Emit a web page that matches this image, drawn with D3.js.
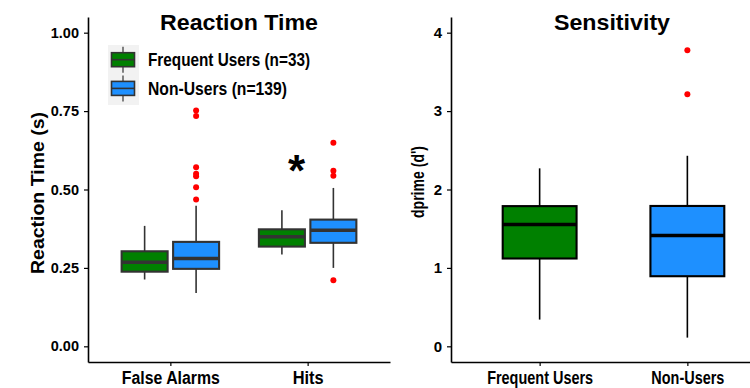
<!DOCTYPE html>
<html>
<head>
<meta charset="utf-8">
<script src="https://cdn.jsdelivr.net/npm/d3@7"></script>
<style>
  body { margin: 0; background: #fff; }
  text { font-family: "Liberation Sans", Arial, sans-serif; font-weight: bold; }
</style>
</head>
<body>
<svg width="750" height="388"></svg>
<script>
// ---- data ----
var rtCategories = ["False Alarms", "Hits"];
var groups = ["Frequent Users", "Non-Users"];
var legendLabels = ["Frequent Users (n=33)", "Non-Users (n=139)"];
var groupColors = ["#008000", "#1e90ff"];

// five number summaries: [lowerWhisker, q1, median, q3, upperWhisker]
var rtFrequent = [[0.213, 0.238, 0.268, 0.303, 0.384], [0.293, 0.318, 0.349, 0.373, 0.434]];
var rtNonUsers = [[0.170, 0.247, 0.280, 0.333, 0.448], [0.250, 0.330, 0.370, 0.404, 0.505]];
var rtOutliersFA = [0.752, 0.734, 0.571, 0.550, 0.542, 0.507, 0.468];
var rtOutliersHits = [0.649, 0.560, 0.544, 0.211];
var rtTicks = [0, 0.25, 0.5, 0.75, 1];

var dpStats = [[0.341, 1.12, 1.554, 1.788, 2.27], [0.111, 0.894, 1.414, 1.79, 2.43]];
var dpOutliersNon = [3.776, 3.214];
var dpTicks = [0, 1, 2, 3, 4];

var svg = d3.select("svg");

// squeeze text to the wanted width (the reference font is a narrow one)
function fit(sel, w) {
  sel.attr("textLength", w).attr("lengthAdjust", "spacingAndGlyphs");
}
var xLabelWidth = { "False Alarms": 98, "Hits": 31, "Frequent Users": 106, "Non-Users": 73 };

// ---------- left panel: reaction time ----------
var yRT = d3.scaleLinear().domain([-0.05, 1.05]).range([362, 17]);
var xRT = d3.scalePoint().domain(rtCategories).range([88, 390]).padding(0.6);
var stepRT = xRT.step();

var left = svg.append("g");

left.append("g")
    .attr("transform", "translate(88,0)")
    .call(d3.axisLeft(yRT).tickValues(rtTicks).tickFormat(d3.format(".2f")).tickSize(4).tickSizeOuter(0).tickPadding(5))
    .call(g => g.selectAll("text").attr("font-size", 14.5).attr("fill", "#000"));
left.append("g")
    .attr("transform", "translate(0,362)")
    .call(d3.axisBottom(xRT).tickSize(4).tickSizeOuter(0).tickPadding(5))
    .call(g => g.selectAll("text").attr("font-size", 18).attr("fill", "#000")
      .each(function (d) { fit(d3.select(this), xLabelWidth[d]); }));

function drawBox(g, cx, w, s, y, fill, stroke, lw) {
  g.append("line").attr("x1", cx).attr("x2", cx).attr("y1", y(s[3])).attr("y2", y(s[4]))
    .attr("stroke", stroke).attr("stroke-width", lw);
  g.append("line").attr("x1", cx).attr("x2", cx).attr("y1", y(s[1])).attr("y2", y(s[0]))
    .attr("stroke", stroke).attr("stroke-width", lw);
  g.append("rect").attr("x", cx - w / 2).attr("width", w)
    .attr("y", y(s[3])).attr("height", y(s[1]) - y(s[3]))
    .attr("fill", fill).attr("stroke", stroke).attr("stroke-width", lw + 0.5);
  g.append("line").attr("x1", cx - w / 2).attr("x2", cx + w / 2).attr("y1", y(s[2])).attr("y2", y(s[2]))
    .attr("stroke", stroke).attr("stroke-width", 3.5);
}

var dodge = stepRT * 0.1875;
rtCategories.forEach(function (c, i) {
  drawBox(left, xRT(c) - dodge, stepRT * 0.335, rtFrequent[i], yRT, groupColors[0], "#333333", 1.6);
  drawBox(left, xRT(c) + dodge, stepRT * 0.335, rtNonUsers[i], yRT, groupColors[1], "#333333", 1.6);
});

left.selectAll("circle.fa").data(rtOutliersFA).enter().append("circle")
    .attr("cx", xRT("False Alarms") + dodge).attr("cy", d => yRT(d)).attr("r", 3).attr("fill", "red");
left.selectAll("circle.hits").data(rtOutliersHits).enter().append("circle")
    .attr("cx", xRT("Hits") + dodge).attr("cy", d => yRT(d)).attr("r", 3).attr("fill", "red");

left.append("text").attr("x", xRT("Hits") - stepRT * 0.08).attr("y", 186)
    .attr("text-anchor", "middle").attr("font-size", 44).text("*");

left.append("text").attr("x", 239).attr("y", 29.5).attr("text-anchor", "middle")
    .attr("font-size", 22).text("Reaction Time").call(fit, 158);
left.append("text").attr("transform", "translate(43.5,193) rotate(-90)")
    .attr("text-anchor", "middle").attr("font-size", 17.5).text("Reaction Time (s)").call(fit, 162);

// legend
var leg = left.append("g");
leg.append("rect").attr("x", 108).attr("y", 45).attr("width", 31).attr("height", 60).attr("fill", "#f2f2f2");
legendLabels.forEach(function (lab, i) {
  var cy = 59.7 + i * 28.7;
  leg.append("line").attr("x1", 123).attr("x2", 123).attr("y1", cy - 13).attr("y2", cy + 13)
    .attr("stroke", "#333").attr("stroke-width", 1.2);
  leg.append("rect").attr("x", 111.5).attr("y", cy - 7).attr("width", 23).attr("height", 14)
    .attr("fill", groupColors[i]).attr("stroke", "#333").attr("stroke-width", 1.6);
  leg.append("line").attr("x1", 111.5).attr("x2", 134.5).attr("y1", cy).attr("y2", cy)
    .attr("stroke", "#333").attr("stroke-width", 1.6);
  leg.append("text").attr("x", 148).attr("y", cy + 6.5).attr("font-size", 18).text(lab)
    .call(fit, i === 0 ? 162 : 139);
});

// ---------- right panel: sensitivity ----------
var yS = d3.scaleLinear().domain([-0.2, 4.2]).range([362, 17]);
var xS = d3.scalePoint().domain(groups).range([451, 776]).padding(0.6);
var stepS = xS.step();

var right = svg.append("g");
right.append("g")
    .attr("transform", "translate(451,0)")
    .call(d3.axisLeft(yS).tickValues(dpTicks).tickFormat(d3.format("d")).tickSize(4).tickSizeOuter(0).tickPadding(5))
    .call(g => g.selectAll("text").attr("font-size", 15).attr("fill", "#000"));
right.append("g")
    .attr("transform", "translate(0,362)")
    .call(d3.axisBottom(xS).tickSize(4).tickSizeOuter(0).tickPadding(5))
    .call(g => g.selectAll("text").attr("font-size", 18).attr("fill", "#000")
      .each(function (d) { fit(d3.select(this), xLabelWidth[d]); }));

groups.forEach(function (gname, i) {
  drawBox(right, xS(gname), stepS * 0.5, dpStats[i], yS, groupColors[i], "#000", 1.6);
});
right.selectAll("circle.out").data(dpOutliersNon).enter().append("circle")
    .attr("cx", xS("Non-Users")).attr("cy", d => yS(d)).attr("r", 3).attr("fill", "red");

right.append("text").attr("x", 612).attr("y", 29.5).attr("text-anchor", "middle")
    .attr("font-size", 22).text("Sensitivity").call(fit, 116);
right.append("text").attr("transform", "translate(424,182) rotate(-90)")
    .attr("text-anchor", "middle").attr("font-size", 18).text("dprime (d')").call(fit, 72);

svg.selectAll(".domain").attr("stroke", "#000").attr("stroke-width", 1.6);
svg.selectAll(".tick line").attr("stroke", "#000").attr("stroke-width", 1.2);
</script>
</body>
</html>
